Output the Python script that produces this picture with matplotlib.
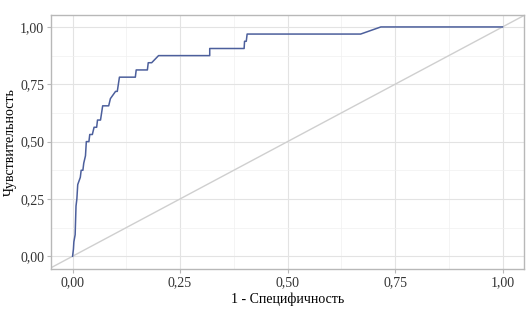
import matplotlib
matplotlib.use("Agg")
import matplotlib.pyplot as plt
from matplotlib.ticker import MultipleLocator, FuncFormatter

# ROC curve vertices (tpr in steps of 1/32)
fpr = [0.000, 0.002, 0.003, 0.006, 0.008, 0.010, 0.012, 0.018, 0.020, 0.024,
       0.026, 0.030, 0.032, 0.038, 0.040, 0.046, 0.050, 0.056, 0.058, 0.065,
       0.070, 0.084, 0.088, 0.100, 0.104, 0.109, 0.120, 0.146, 0.148, 0.174,
       0.176, 0.184, 0.200, 0.319, 0.319, 0.399, 0.400, 0.404, 0.406, 0.670,
       0.717, 1.000]
tpr = [0.000, 0.031, 0.0625, 0.094, 0.219, 0.250, 0.3125, 0.344, 0.375, 0.375,
       0.406, 0.438, 0.500, 0.500, 0.531, 0.531, 0.5625, 0.5625, 0.594, 0.594,
       0.656, 0.656, 0.6875, 0.719, 0.719, 0.781, 0.781, 0.781, 0.8125, 0.8125,
       0.844, 0.844, 0.875, 0.875, 0.906, 0.906, 0.9375, 0.9375, 0.969, 0.969,
       1.000, 1.000]

ticks = [0.0, 0.25, 0.5, 0.75, 1.0]

plt.rcParams['font.family'] = ['Liberation Serif', 'DejaVu Serif']
plt.rcParams['font.size'] = 10

fig = plt.figure(figsize=(5.32, 3.13), dpi=100)
ax = fig.add_axes([0.096, 0.141, 0.889, 0.811])

lo, hi = -0.05, 1.05
ax.plot([lo, hi], [lo, hi], color="#cfcfcf", linewidth=1.0, zorder=2)
ax.plot(fpr, tpr, color="#4c5f9c", linewidth=1.1, zorder=3)

ax.set_xlim(lo, hi)
ax.set_ylim(-0.055, 1.052)
ax.set_xticks(ticks)
ax.set_yticks(ticks)
ax.xaxis.set_minor_locator(MultipleLocator(0.125))
ax.yaxis.set_minor_locator(MultipleLocator(0.125))
fmt = FuncFormatter(lambda v, p: ("%.2f" % v).replace(".", ","))
ax.xaxis.set_major_formatter(fmt)
ax.yaxis.set_major_formatter(fmt)

ax.grid(which="major", color="#e3e3e3", linewidth=0.8)
ax.grid(which="minor", color="#f0f0f0", linewidth=0.5)
ax.set_axisbelow(True)
for s in ax.spines.values():
    s.set_color("#b8b8b8")
    s.set_linewidth(1.0)
ax.tick_params(which="major", length=3, color="#b8b8b8", labelsize=10, labelcolor="#333333", pad=2)
ax.tick_params(which="minor", length=0)

ax.set_xlabel("1 - Специфичность", fontsize=10, labelpad=3)
ax.set_ylabel("Чувствительность", fontsize=10, labelpad=2)

fig.savefig("out.png", dpi=100)
